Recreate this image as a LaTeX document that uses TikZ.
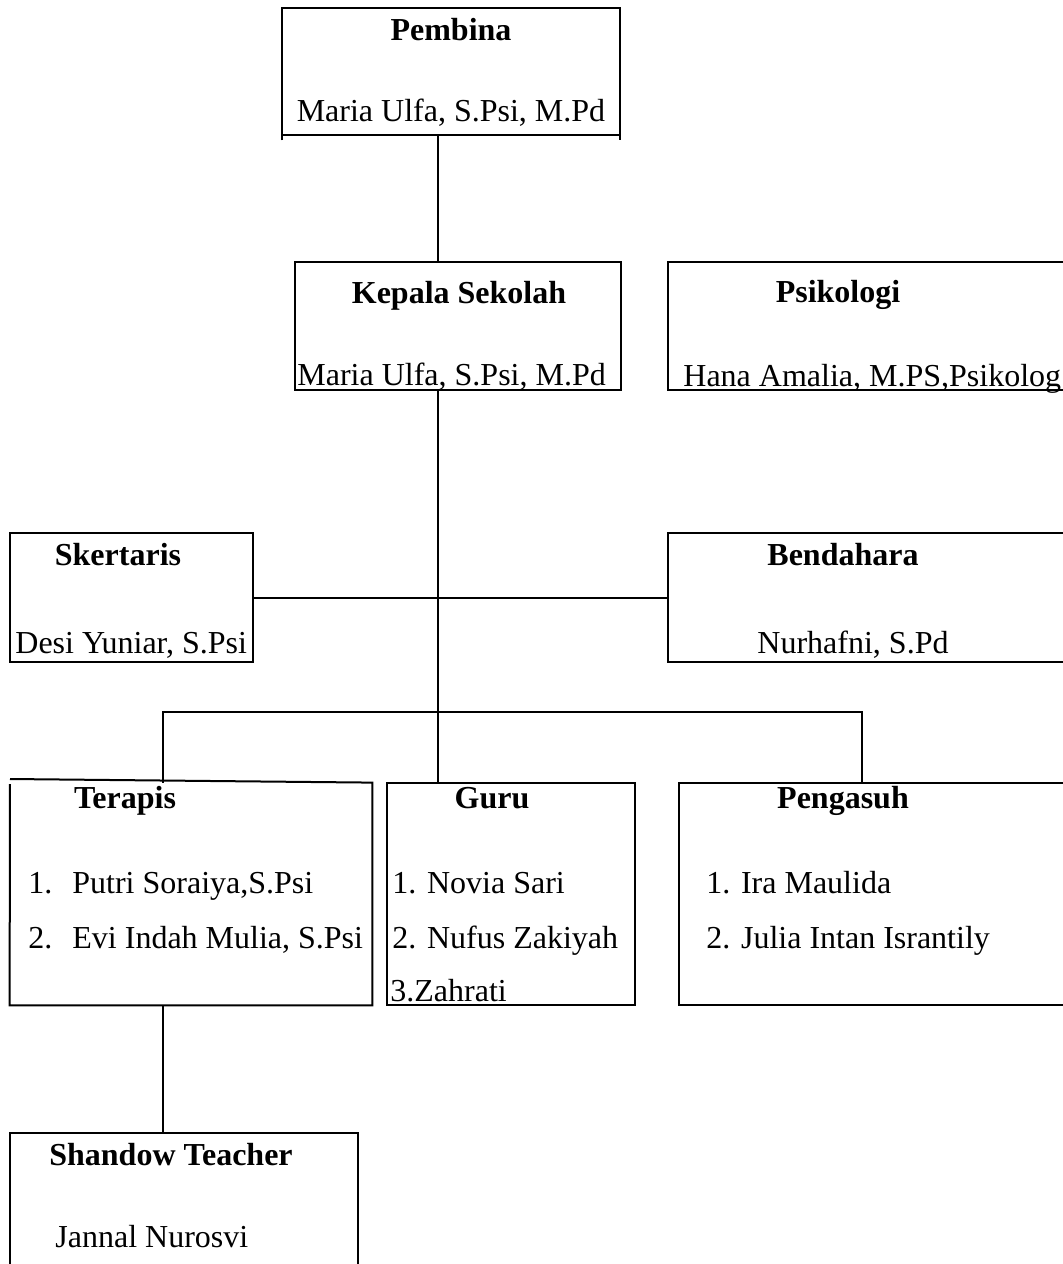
\documentclass[tikz,border=0pt]{standalone}
\usepackage{fontspec}
\setmainfont{Liberation Serif}
\usetikzlibrary{positioning,calc,fit}
\tikzset{
  orgbox/.style={draw, rectangle, inner sep=0pt, line width=1pt},
  openbox/.style={rectangle, inner sep=0pt},
  head/.style={font=\bfseries\fontsize{16}{19}\selectfont, inner sep=0pt, anchor=base},
  person/.style={font=\fontsize{16}{19}\selectfont, inner sep=0pt, anchor=base west},
  link/.style={line width=1pt}
}
\begin{document}
\begin{tikzpicture}[x=0.5pt,y=-0.5pt]
  \useasboundingbox (0,0) rectangle (1062,1264);
  % boxes
  \node[openbox, fit={(282,8) (620,135)}] (pembina) {};
  \draw[link] (pembina.south west) ++(0,5) |- (pembina.north east) -- ++(0,132);
  \draw[link] (pembina.south west) -- (pembina.south east);
  \node[orgbox, fit={(295,262) (621,390)}] (kepala) {};
  \node[orgbox, fit={(668,262) (1080,390)}] (psikologi) {};
  \node[orgbox, fit={(10,533) (253,662)}] (skertaris) {};
  \node[orgbox, fit={(668,533) (1080,662)}] (bendahara) {};
  \node[openbox, fit={(10,783) (372,1005)}] (terapis) {};
  \draw[link] (10,779) -- (terapis.north east) -- (terapis.south east) -- (terapis.south west) -- (10,784);
  \node[orgbox, fit={(387,783) (635,1005)}] (guru) {};
  \node[orgbox, fit={(679,783) (1080,1005)}] (pengasuh) {};
  \node[orgbox, fit={(10,1133) (358,1290)}] (shandow) {};
  % texts
  \node[head] (pembinahead) at (451,40) {Pembina};
  \node[font=\fontsize{16}{19}\selectfont, inner sep=0pt, anchor=base] (pembinaname) at (451,121) {Maria Ulfa, S.Psi, M.Pd};
  \node[head] (kepalahead) at (459,303) {Kepala Sekolah};
  \node[person] (kepalaname) at (297,385) {Maria Ulfa, S.Psi, M.Pd};
  \node[head] (psikologihead) at (838,302) {Psikologi};
  \node[person] (psikologiname) at (683,386) {Hana Amalia, M.PS,Psikolog};
  \node[head] (skertarishead) at (118,565) {Skertaris};
  \node[person] (skertarisname) at (15,653) {Desi Yuniar, S.Psi};
  \node[head] (bendaharahead) at (843,565) {Bendahara};
  \node[head, font=\fontsize{16}{19}\selectfont] (bendaharaname) at (853,653) {Nurhafni, S.Pd};
  \node[head] (terapishead) at (125,808) {Terapis};
  \node[person] (terapisone) at (28,893) {1.\hspace{10pt}Putri Soraiya,S.Psi};
  \node[person] (terapistwo) at (28,948) {2.\hspace{10pt}Evi Indah Mulia, S.Psi};
  \node[head] (guruhead) at (492,808) {Guru};
  \node[person] (guruone) at (392,893) {1. Novia Sari};
  \node[person] (gurutwo) at (392,948) {2. Nufus Zakiyah};
  \node[person] (guruthree) at (390,1001) {3.Zahrati};
  \node[head] (pengasuhhead) at (843,808) {Pengasuh};
  \node[person] (pengasuhone) at (706,893) {1. Ira Maulida};
  \node[person] (pengasuhtwo) at (706,948) {2. Julia Intan Israntily};
  \node[head] (shandowhead) at (171,1165) {Shandow Teacher};
  \node[person] (shandowname) at (55,1247) {Jannal Nurosvi};
  % connectors
  \coordinate (trunk) at (438,0);
  \coordinate (leftdrop) at (163,712);
  \coordinate (rightdrop) at (862,712);
  \draw[link] (trunk |- pembina.south) -- (trunk |- kepala.north);
  \draw[link] (trunk |- kepala.south) -- (trunk |- guru.north);
  \draw[link] (skertaris.east) -- (bendahara.west);
  \draw[link] (leftdrop |- terapis.north) -- (leftdrop) -- (rightdrop) -- (rightdrop |- pengasuh.north);
  \draw[link] (leftdrop |- terapis.south) -- (leftdrop |- shandow.north);
\end{tikzpicture}
\end{document}
